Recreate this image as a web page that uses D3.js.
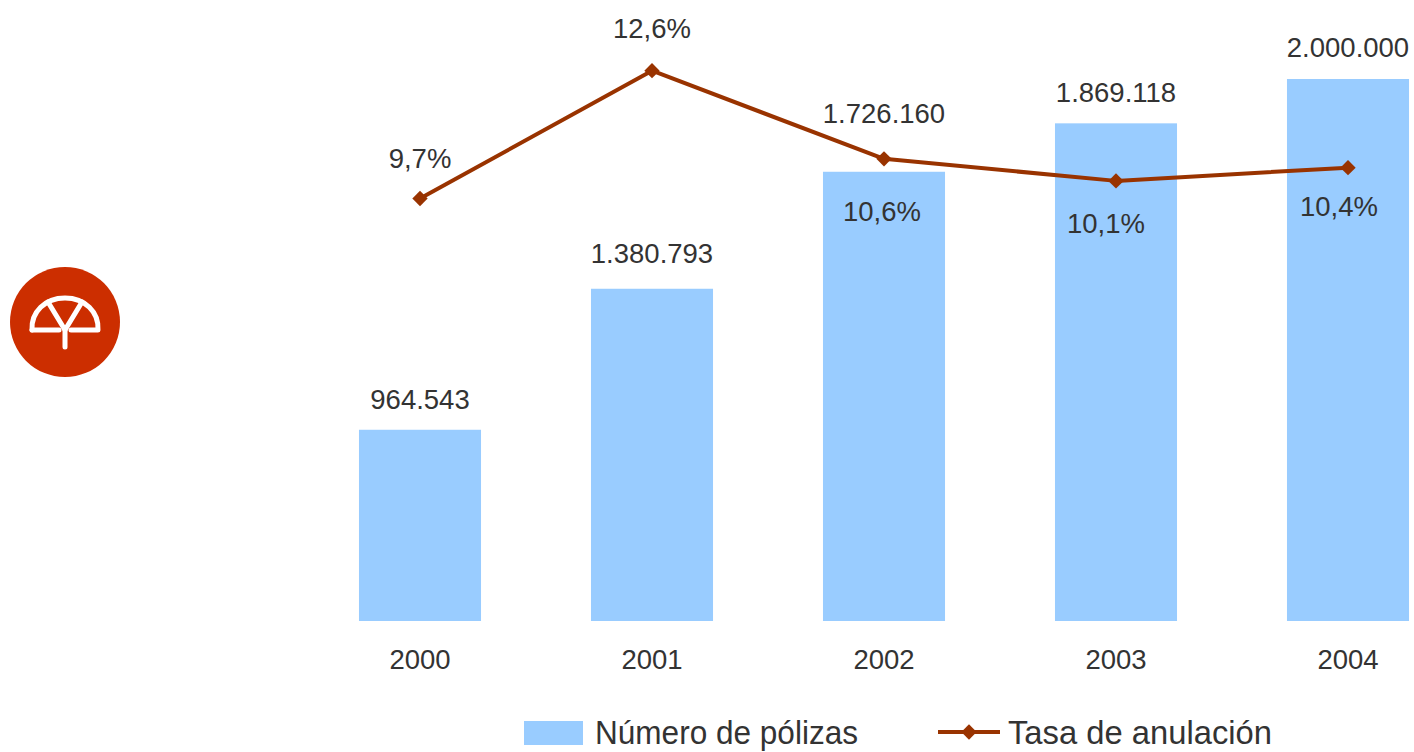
<!DOCTYPE html>
<html>
<head>
<meta charset="utf-8">
<script src="https://cdn.jsdelivr.net/npm/d3@7"></script>
<style>
  body { margin: 0; background: #fff; }
  svg { display: block; }
</style>
</head>
<body>
<svg id="chart"></svg>
<script>
// datos
const years = ["2000", "2001", "2002", "2003", "2004"];
const polizas = [964543, 1380793, 1726160, 1869118, 2000000];
const tasa = [9.7, 12.6, 10.6, 10.1, 10.4];
const legendLabels = ["Número de pólizas", "Tasa de anulación"];

const W = 1414, H = 752;
const barColor = "#99ccff";
const lineColor = "#993300";
const textColor = "#333333";
const font = "'Liberation Sans', Arial, sans-serif";

// ajustes de etiquetas (a mano, como en el original)
const barLabelLift = [21, 26, 49, 21, 22];
const rateLabelDy = [-31, -33, 62, 52, 48];
const rateLabelDx = [0, 0, -2, -10, -9];

const svg = d3.select("#chart")
  .attr("width", W)
  .attr("height", H)
  .style("font-family", font);

const x = d3.scaleBand()
  .domain(years)
  .range([304, 1464])
  .paddingInner(0.474)
  .paddingOuter(0.237);

const y = d3.scaleLinear()
  .domain([400000, 2200000])
  .range([621, 621 - 542 * 1.8 / 1.6]);

const y2 = d3.scaleLinear()
  .domain([0, 14])
  .range([626, 9]);

const fmtNum = (v) => d3.format(",")(v).replace(/,/g, ".");
const fmtPct = (v) => d3.format(".1f")(v).replace(".", ",") + "%";

// barras
const data = years.map((yr, i) => ({ year: yr, n: polizas[i], t: tasa[i], i }));

svg.append("g")
  .selectAll("rect")
  .data(data)
  .join("rect")
  .attr("x", (d) => x(d.year))
  .attr("y", (d) => y(d.n))
  .attr("width", x.bandwidth())
  .attr("height", (d) => y(y.domain()[0]) - y(d.n))
  .attr("fill", barColor);

svg.append("g")
  .selectAll("text")
  .data(data)
  .join("text")
  .attr("x", (d) => x(d.year) + x.bandwidth() / 2)
  .attr("y", (d) => y(d.n) - barLabelLift[d.i])
  .attr("text-anchor", "middle")
  .attr("font-size", 27.5)
  .attr("fill", textColor)
  .text((d) => fmtNum(d.n));

// eje x (solo etiquetas)
const xAxis = svg.append("g")
  .attr("transform", "translate(0,621)")
  .call(d3.axisBottom(x).tickSize(0).tickPadding(0));
xAxis.select(".domain").remove();
xAxis.selectAll("text")
  .attr("dy", null)
  .attr("y", 48)
  .attr("font-size", 27.5)
  .attr("font-family", font)
  .attr("fill", textColor);

// linea de tasa
const line = d3.line()
  .x((d) => x(d.year) + x.bandwidth() / 2)
  .y((d) => y2(d.t));

svg.append("path")
  .datum(data)
  .attr("d", line)
  .attr("fill", "none")
  .attr("stroke", lineColor)
  .attr("stroke-width", 4)
  .attr("stroke-linejoin", "round");

const diamond = d3.symbol().type(d3.symbolDiamond2).size(150);

svg.append("g")
  .selectAll("path")
  .data(data)
  .join("path")
  .attr("transform", (d) => `translate(${x(d.year) + x.bandwidth() / 2},${y2(d.t)})`)
  .attr("d", diamond)
  .attr("fill", lineColor);

svg.append("g")
  .selectAll("text")
  .data(data)
  .join("text")
  .attr("x", (d) => x(d.year) + x.bandwidth() / 2 + rateLabelDx[d.i])
  .attr("y", (d) => y2(d.t) + rateLabelDy[d.i])
  .attr("text-anchor", "middle")
  .attr("font-size", 27.5)
  .attr("fill", textColor)
  .text((d) => fmtPct(d.t));

// leyenda
const legend = svg.append("g");
legend.append("rect")
  .attr("x", 524).attr("y", 721)
  .attr("width", 59).attr("height", 24)
  .attr("fill", barColor);
legend.append("text")
  .attr("x", 595).attr("y", 744)
  .attr("font-size", 33)
  .attr("textLength", 263)
  .attr("lengthAdjust", "spacingAndGlyphs")
  .attr("fill", textColor)
  .text(legendLabels[0]);
legend.append("line")
  .attr("x1", 938).attr("x2", 1000)
  .attr("y1", 732).attr("y2", 732)
  .attr("stroke", lineColor)
  .attr("stroke-width", 4);
legend.append("path")
  .attr("transform", "translate(969,732)")
  .attr("d", diamond)
  .attr("fill", lineColor);
legend.append("text")
  .attr("x", 1008).attr("y", 744)
  .attr("font-size", 33)
  .attr("textLength", 264)
  .attr("lengthAdjust", "spacingAndGlyphs")
  .attr("fill", textColor)
  .text(legendLabels[1]);

// logo
const logo = svg.append("g").attr("transform", "translate(65,322)");
logo.append("circle").attr("r", 55).attr("fill", "#cc2e00");
const w = { fill: "none", stroke: "#fff", "stroke-width": 5, "stroke-linejoin": "round", "stroke-linecap": "round" };
const umbrella = [
  "M-33,8 C-34,-10 -20,-24 0,-24 C20,-24 34,-10 33,8 L6,8",
  "M-33,8 L-6,8",
  "M-17,-20 L0,8 L17,-20",
  "M0,8 L0,25"
];
logo.selectAll("path")
  .data(umbrella)
  .join("path")
  .attr("d", (d) => d)
  .each(function () {
    const p = d3.select(this);
    Object.entries(w).forEach(([k, v]) => p.attr(k, v));
  });
</script>
</body>
</html>
